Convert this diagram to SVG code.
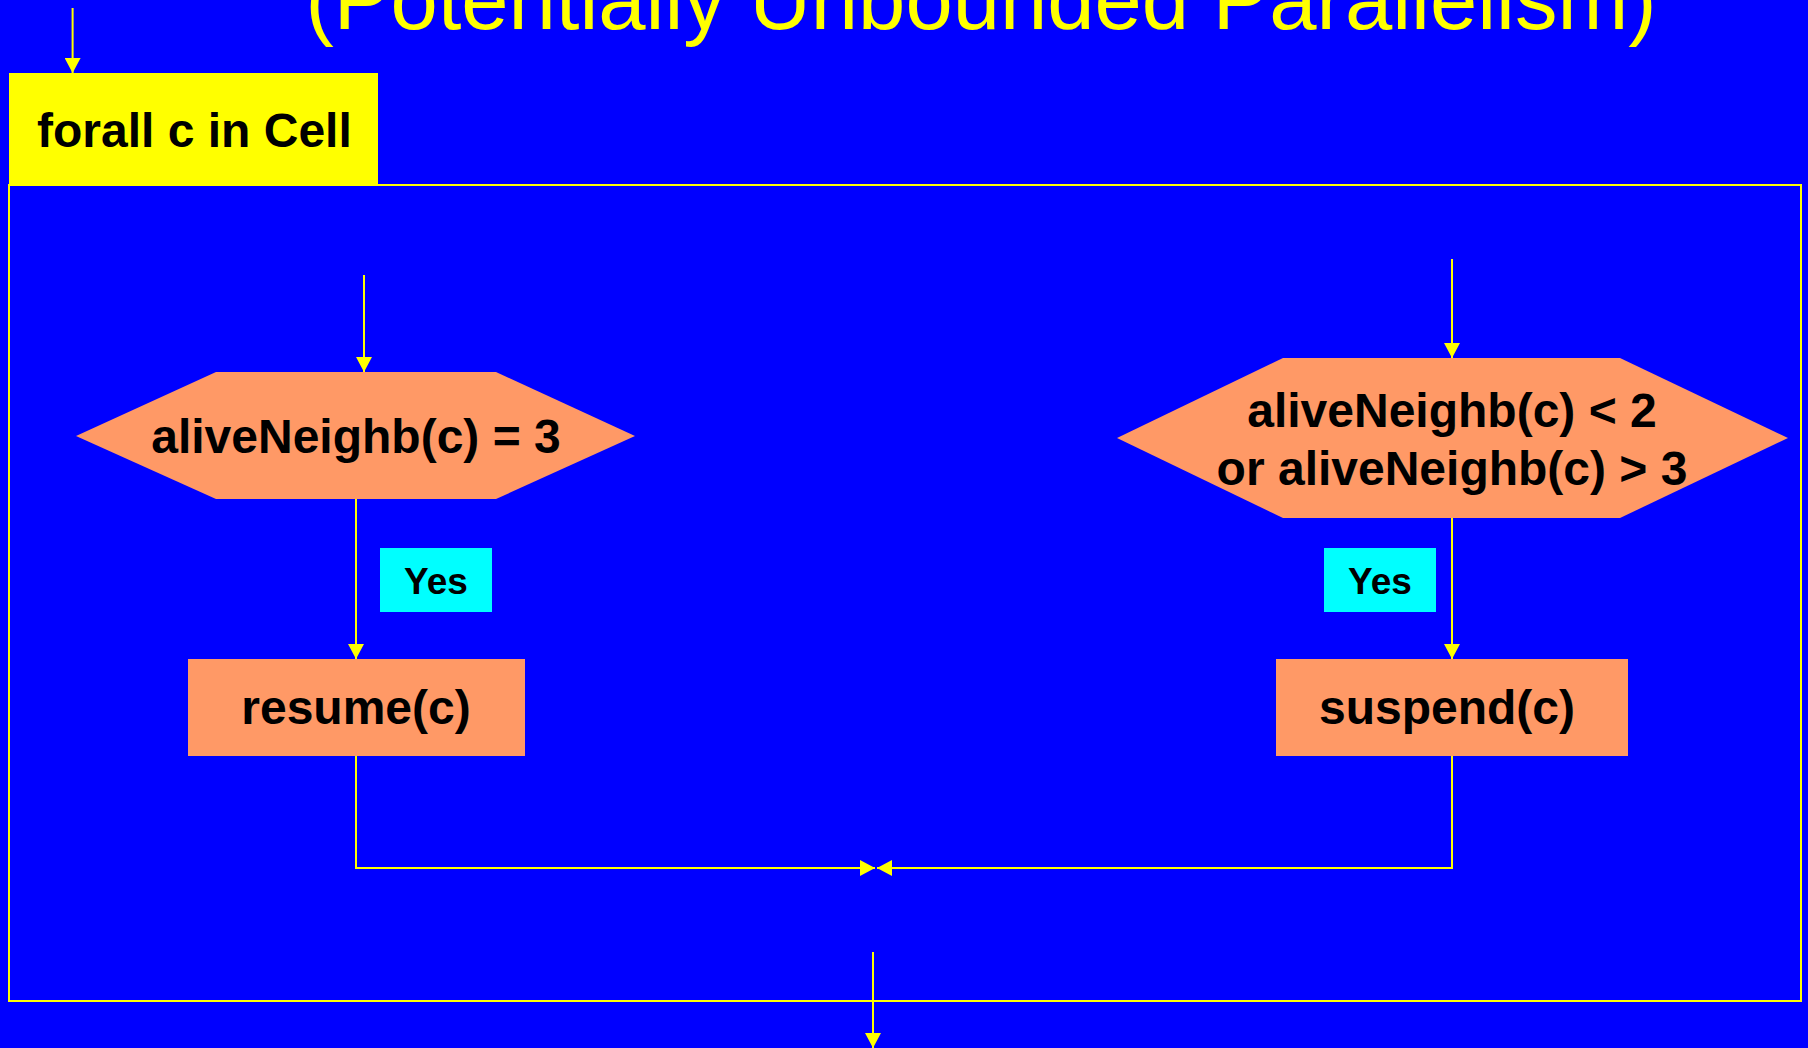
<svg xmlns="http://www.w3.org/2000/svg" width="1808" height="1048" viewBox="0 0 1808 1048">
  <style>
    .bg { fill: #0000FF; }
    .title { font-family: "Liberation Sans", Arial, sans-serif; font-size: 85px; fill: #FFFF00; }
    .lbl { font-family: "Liberation Sans", Arial, sans-serif; font-weight: bold; font-size: 48px; fill: #000000; }
    .yes { font-family: "Liberation Sans", Arial, sans-serif; font-weight: bold; font-size: 37px; fill: #000000; }
    .shape { fill: #FF9966; }
    .tag { fill: #00FFFF; }
    .head { fill: #FFFF00; }
    .wire { fill: none; stroke: #FFFF00; stroke-width: 2; }
  </style>
  <defs>
    <marker id="arrow" viewBox="0 0 15 16" refX="15" refY="8" markerWidth="15" markerHeight="16" markerUnits="userSpaceOnUse" orient="auto">
      <path d="M0,0 L15,8 L0,16 Z" fill="#FFFF00"/>
    </marker>
  </defs>

  <rect class="bg" x="0" y="0" width="1808" height="1048"/>

  <text class="title" x="981" y="29" text-anchor="middle">(Potentially Unbounded Parallelism)</text>

  <!-- forall body frame -->
  <g id="forall-frame">
    <rect class="wire" x="9" y="185" width="1792" height="816"/>
  </g>

  <g id="forall-head">
    <rect class="head" x="9" y="73" width="369" height="112"/>
    <text class="lbl" x="37" y="147">forall c in Cell</text>
  </g>

  <g id="cond-birth">
    <polygon class="shape" points="76,436 216,372 496,372 635,436 496,499 216,499"/>
    <text class="lbl" x="356" y="453" text-anchor="middle">aliveNeighb(c) = 3</text>
  </g>

  <g id="cond-death">
    <polygon class="shape" points="1117,438 1283,358 1620,358 1788,438 1620,518 1283,518"/>
    <text class="lbl" x="1452" y="427" text-anchor="middle">aliveNeighb(c) &lt; 2</text>
    <text class="lbl" x="1452" y="485" text-anchor="middle">or aliveNeighb(c) &gt; 3</text>
  </g>

  <g id="yes-left">
    <rect class="tag" x="380" y="548" width="112" height="64"/>
    <text class="yes" x="436" y="594" text-anchor="middle">Yes</text>
  </g>

  <g id="yes-right">
    <rect class="tag" x="1324" y="548" width="112" height="64"/>
    <text class="yes" x="1380" y="594" text-anchor="middle">Yes</text>
  </g>

  <g id="resume">
    <rect class="shape" x="188" y="659" width="337" height="97"/>
    <text class="lbl" x="356" y="724" text-anchor="middle">resume(c)</text>
  </g>

  <g id="suspend">
    <rect class="shape" x="1276" y="659" width="352" height="97"/>
    <text class="lbl" x="1319" y="724">suspend(c)</text>
  </g>

  <g id="connectors">
    <line class="wire" x1="72.6" y1="8" x2="72.6" y2="73" marker-end="url(#arrow)"/>
    <line class="wire" x1="364" y1="275" x2="364" y2="372" marker-end="url(#arrow)"/>
    <line class="wire" x1="1452" y1="259" x2="1452" y2="358" marker-end="url(#arrow)"/>
    <line class="wire" x1="356" y1="499" x2="356" y2="659" marker-end="url(#arrow)"/>
    <line class="wire" x1="1452" y1="518" x2="1452" y2="659" marker-end="url(#arrow)"/>
    <polyline class="wire" points="356,756 356,868 875,868" marker-end="url(#arrow)"/>
    <polyline class="wire" points="1452,756 1452,868 877,868" marker-end="url(#arrow)"/>
    <line class="wire" x1="873" y1="952" x2="873" y2="1048" marker-end="url(#arrow)"/>
  </g>
</svg>
